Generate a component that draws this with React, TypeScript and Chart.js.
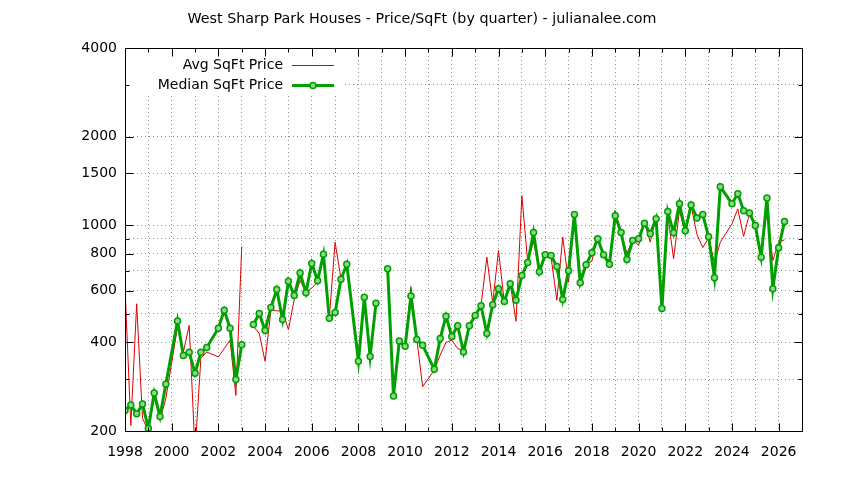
import React, { useEffect, useRef } from "react";
import Chart from "chart.js/auto";

const chartTitle = "West Sharp Park Houses - Price/SqFt (by quarter) - julianalee.com";

// quarter start (decimal year); null values break the line
const quarters = [
  1998, 1998.25, 1998.5, 1998.75, 1999, 1999.25, 1999.5, 1999.75,
  2000.25, 2000.5, 2000.75, 2001, 2001.25, 2001.5,
  2002, 2002.25, 2002.5, 2002.75, 2003, 2003.25, 2003.5, 2003.75,
  2004, 2004.25, 2004.5, 2004.75, 2005, 2005.25, 2005.5, 2005.75,
  2006, 2006.25, 2006.5, 2006.75, 2007, 2007.25, 2007.5,
  2008, 2008.25, 2008.5, 2008.75, 2009, 2009.25, 2009.5, 2009.75,
  2010, 2010.25, 2010.5, 2010.75, 2011.25, 2011.5, 2011.75,
  2012, 2012.25, 2012.5, 2012.75, 2013, 2013.25, 2013.5, 2013.75,
  2014, 2014.25, 2014.5, 2014.75, 2015, 2015.25, 2015.5, 2015.75,
  2016, 2016.25, 2016.5, 2016.75, 2017, 2017.25, 2017.5, 2017.75,
  2018, 2018.25, 2018.5, 2018.75, 2019, 2019.25, 2019.5, 2019.75,
  2020, 2020.25, 2020.5, 2020.75, 2021, 2021.25, 2021.5, 2021.75,
  2022, 2022.25, 2022.5, 2022.75, 2023, 2023.25, 2023.5,
  2024, 2024.25, 2024.5, 2024.75, 2025, 2025.25, 2025.5, 2025.75,
  2026, 2026.25,
];

const avgPrice = [
  616, 209, 541, 221, 200, 262, 218, 258,
  451, 371, 457, 170, 353, 371,
  357, 381, 407, 264, 847, null, 454, 429,
  345, 514, 512, 511, 442, 560, 650, 593,
  612, 641, 797, 483, 876, 658, 721,
  345, 569, 358, 543, null, 711, 263, 404,
  388, 616, 410, 283, 322, 362, 400,
  407, 381, 376, 450, 494, 533, 779, 545,
  821, 545, 636, 472, 1260, 750, 880, 703,
  789, 780, 556, 912, 640, 1087, 667, 735,
  755, 920, 794, 737, 1121, 944, 800, 899,
  853, 1025, 876, 1070, 521, 1080, 769, 1121,
  940, 1165, 930, 840, 905, 745, 876,
  1011, 1136, 917, 1095, 997, 779, 1121, 759,
  876, 892,
];

const medianPrice = [
  235, 245, 229, 247, 204, 269, 224, 289,
  473, 361, 370, 314, 370, 384,
  447, 514, 447, 299, 393, null, 460, 501,
  439, 525, 605, 478, 645, 577, 688, 590,
  742, 648, 797, 483, 505, 655, 737,
  345, 569, 358, 543, null, 711, 263, 404,
  388, 575, 409, 391, 324, 412, 491,
  419, 456, 371, 456, 494, 533, 429, 537,
  609, 551, 633, 556, 675, 747, 944, 695,
  794, 789, 724, 559, 701, 1087, 638, 734,
  806, 899, 794, 737, 1076, 944, 765, 887,
  899, 1015, 935, 1053, 521, 1113, 942, 1184,
  957, 1172, 1059, 1087, 913, 663, 1352,
  1184, 1280, 1121, 1101, 997, 779, 1238, 609,
  838, 1029,
];

const yearTicks = [
  1998, 1999, 2000, 2001, 2002, 2003, 2004, 2005, 2006, 2007,
  2008, 2009, 2010, 2011, 2012, 2013, 2014, 2015, 2016, 2017,
  2018, 2019, 2020, 2021, 2022, 2023, 2024, 2025, 2026, 2027,
];
const priceTicks = [200, 300, 400, 500, 600, 700, 800, 900, 1000, 1500, 2000, 3000, 4000];
const priceLabels = [200, 400, 600, 800, 1000, 1500, 2000, 4000];

const RED = "#dd0000";
const GREEN = "#00a000";
const FONT = "DejaVu Sans";

// gnuplot style: title centred on the canvas, full border, inward ticks on
// all four sides, opaque key in the top-left corner
const gnuplotFrame = {
  id: "gnuplotFrame",
  beforeDatasetsDraw(chart: any) {
    const { ctx, chartArea: a } = chart;
    ctx.save();
    ctx.fillStyle = "#fff";
    ctx.fillRect(a.left + 1, a.top + 1, 216, 47);
    ctx.restore();
  },
  afterDatasetsDraw(chart: any) {
    const { ctx, chartArea: a, scales } = chart;
    const l = Math.round(a.left) + 0.5;
    const r = Math.round(a.right) + 0.5;
    const t = Math.round(a.top) + 0.5;
    const b = Math.round(a.bottom) + 0.5;
    ctx.save();

    ctx.fillStyle = "#000";
    ctx.font = `14.3px "${FONT}"`;
    ctx.textAlign = "center";
    ctx.textBaseline = "middle";
    ctx.fillText(chartTitle, chart.width / 2, 19);

    ctx.strokeStyle = "#000";
    ctx.lineWidth = 1;
    ctx.beginPath();
    ctx.rect(l, t, r - l, b - t);
    scales.x.ticks.forEach((tk: any) => {
      const px = Math.round(scales.x.getPixelForValue(tk.value)) + 0.5;
      const len = tk.label ? 8 : 4;
      ctx.moveTo(px, b);
      ctx.lineTo(px, b - len);
      ctx.moveTo(px, t);
      ctx.lineTo(px, t + len);
    });
    scales.y.ticks.forEach((tk: any) => {
      const py = Math.round(scales.y.getPixelForValue(tk.value)) + 0.5;
      const len = tk.label ? 8 : 4;
      ctx.moveTo(l, py);
      ctx.lineTo(l + len, py);
      ctx.moveTo(r, py);
      ctx.lineTo(r - len, py);
    });
    ctx.stroke();

    // key
    const rows = [chart.data.datasets[1], chart.data.datasets[0]];
    ctx.font = `14px "${FONT}"`;
    ctx.textAlign = "right";
    rows.forEach((ds: any, i: number) => {
      const y = Math.round(a.top + 17 + i * 20) + 0.5;
      ctx.fillStyle = "#000";
      ctx.fillText(ds.label, a.left + 158, y);
      ctx.beginPath();
      ctx.strokeStyle = ds.borderColor;
      ctx.lineWidth = ds.borderWidth;
      ctx.moveTo(a.left + 167, y);
      ctx.lineTo(a.left + 209, y);
      ctx.stroke();
      if (ds.pointRadius) {
        ctx.beginPath();
        ctx.arc(a.left + 188, y, ds.pointRadius, 0, Math.PI * 2);
        ctx.fillStyle = ds.pointBackgroundColor;
        ctx.fill();
        ctx.lineWidth = ds.pointBorderWidth;
        ctx.strokeStyle = ds.borderColor;
        ctx.stroke();
      }
    });
    ctx.restore();
  },
};

const App: React.FC = () => {
  const canvasRef = useRef<HTMLCanvasElement | null>(null);
  const chartRef = useRef<Chart | null>(null);

  useEffect(() => {
    if (!canvasRef.current) return;
    const ctx = canvasRef.current.getContext("2d");
    if (!ctx) return;

    if (chartRef.current) chartRef.current.destroy();

    Chart.defaults.font.family = FONT;
    Chart.defaults.font.size = 14;
    Chart.defaults.color = "#000";

    const gridOpts = { color: "#909090", lineWidth: 1, drawTicks: false };

    chartRef.current = new Chart(ctx, {
      type: "line",
      data: {
        datasets: [
          {
            label: "Median SqFt Price",
            data: quarters.map((q, i) => ({ x: q, y: medianPrice[i] })),
            borderColor: GREEN,
            borderWidth: 3,
            pointRadius: 3,
            pointHoverRadius: 3,
            pointBorderWidth: 1.5,
            pointBorderColor: GREEN,
            pointBackgroundColor: "rgba(140,215,140,1)",
            spanGaps: false,
            order: 0,
          } as any,
          {
            label: "Avg SqFt Price",
            data: quarters.map((q, i) => ({ x: q, y: avgPrice[i] })),
            borderColor: RED,
            borderWidth: 1,
            pointRadius: 0,
            spanGaps: false,
            order: 1,
          } as any,
        ],
      },
      options: {
        animation: false,
        responsive: false,
        events: [],
        layout: { padding: { left: 0, right: 42, top: 48, bottom: 0 } },
        plugins: {
          legend: { display: false },
          tooltip: { enabled: false },
          title: { display: false },
        },
        scales: {
          x: {
            type: "linear",
            min: 1998,
            max: 2027,
            afterBuildTicks: (scale: any) => {
              scale.ticks = yearTicks.map((v) => ({ value: v }));
            },
            afterFit: (scale: any) => {
              scale.height = 49;
            },
            ticks: {
              autoSkip: false,
              maxRotation: 0,
              padding: 13,
              callback: (v: any) => (Number(v) % 2 === 0 ? String(v) : ""),
            },
            grid: gridOpts,
            border: { display: false, dash: [1, 3] },
          },
          y: {
            type: "logarithmic",
            min: 200,
            max: 4000,
            afterBuildTicks: (scale: any) => {
              scale.ticks = priceTicks.map((v) => ({ value: v }));
            },
            afterFit: (scale: any) => {
              scale.width = 125;
            },
            ticks: {
              autoSkip: false,
              padding: 8,
              callback: (v: any) => (priceLabels.includes(Number(v)) ? String(v) : ""),
            },
            grid: gridOpts,
            border: { display: false, dash: [1, 3] },
          },
        },
      },
      plugins: [gnuplotFrame],
    });

    return () => {
      if (chartRef.current) {
        chartRef.current.destroy();
        chartRef.current = null;
      }
    };
  }, []);

  return (
    <div style={{ position: "fixed", left: 0, top: 0, width: 844, height: 480, background: "#fff" }}>
      <canvas ref={canvasRef} width={844} height={480} style={{ display: "block" }} />
    </div>
  );
};

export default App;
